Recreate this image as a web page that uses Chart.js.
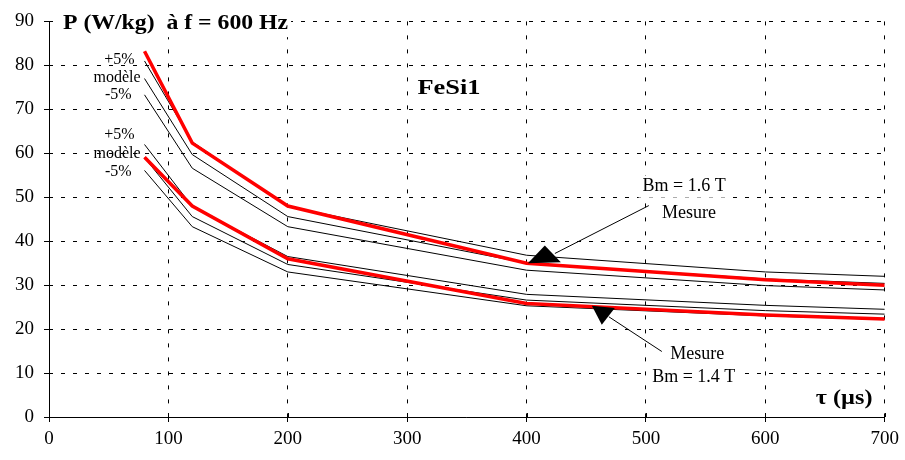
<!DOCTYPE html>
<html>
<head>
<meta charset="utf-8">
<script src="https://cdn.jsdelivr.net/npm/chart.js@4"></script>
<style>
  body { margin: 0; background: #fff; }
  #chartContainer { width: 905px; height: 460px; }
</style>
</head>
<body>
<div id="chartContainer"><canvas id="myChart" width="905" height="460"></canvas></div>
<script>
// tau values (µs) where the curves were read
const tauValues = [80, 120, 200, 400, 600, 700];

// Bm = 1.6 T
const mesure16 = [83.2, 62.3, 48.0, 35.0, 31.2, 30.0];
const modele16 = [77.0, 59.7, 45.6, 35.0, 31.4, 30.4];
const plus16 = [81.0, 62.6, 47.9, 36.8, 33.0, 32.0];
const minus16 = [73.3, 56.6, 43.3, 33.4, 29.9, 28.9];

// Bm = 1.4 T
const mesure14 = [59.1, 48.0, 36.0, 25.8, 23.2, 22.3];
const modele14 = [59.0, 45.6, 34.7, 26.6, 24.2, 23.4];
const plus14 = [62.0, 47.9, 36.5, 27.9, 25.4, 24.5];
const minus14 = [56.1, 43.3, 33.0, 25.3, 23.0, 22.2];

const xTicks = [0, 100, 200, 300, 400, 500, 600, 700];
const yTicks = [0, 10, 20, 30, 40, 50, 60, 70, 80, 90];

const serif = "'Liberation Serif', 'Times New Roman', serif";

function toPoints(values) {
  return values.map((v, i) => ({ x: tauValues[i], y: v }));
}

function blackLine(values) {
  return {
    data: toPoints(values),
    borderColor: "#000",
    borderWidth: 1,
    pointRadius: 0,
    tension: 0,
    order: 2,
  };
}

function redLine(values) {
  return {
    data: toPoints(values),
    borderColor: "#ff0000",
    borderWidth: 3.5,
    pointRadius: 0,
    tension: 0,
    order: 1,
  };
}

// annotation text, positions in data units (tau, P)
const annotations = [
  { text: "FeSi1", x: 335, y: 74.7, bold: true, size: 22, stretch: 1.2 },
  { text: "Bm = 1.6 T", x: 532, y: 52.4, size: 18, box: true },
  { text: "Mesure", x: 536, y: 46.3, size: 18 },
  { text: "Mesure", x: 543, y: 14.2, size: 18 },
  { text: "Bm = 1.4 T", x: 540, y: 9.0, size: 18, box: true },
  { text: "\u03c4 (\u00b5s)", x: 666, y: 4.3, bold: true, size: 21, stretch: 1.15 },
  { text: "+5%", x: 59, y: 81.2, size: 16 },
  { text: "mod\u00e8le", x: 57, y: 77.2, size: 16 },
  { text: "-5%", x: 58, y: 73.3, size: 16 },
  { text: "+5%", x: 59, y: 64.1, size: 16 },
  { text: "mod\u00e8le", x: 57, y: 59.8, size: 16 },
  { text: "-5%", x: 58, y: 55.7, size: 16 },
];

const arrowLines = [
  [[502.4, 48.1], [423.7, 37.2]],
  [[468.9, 22.8], [513.3, 14.9]],
];
const arrowHeads = [
  [[415.3, 39.0], [401.1, 35.0], [428.7, 35.2]],
  [[454.7, 25.3], [473.9, 24.8], [463.0, 21.0]],
];

function drawStretched(ctx, text, x, y, stretch) {
  ctx.save();
  ctx.translate(x, y);
  ctx.scale(stretch, 1);
  ctx.fillText(text, 0, 0);
  ctx.restore();
}

const annotationPlugin = {
  id: "annotationPlugin",
  afterDraw(chart) {
    const ctx = chart.ctx;
    const xs = chart.scales.x;
    const ys = chart.scales.y;
    const px = (v) => xs.getPixelForValue(v);
    const py = (v) => ys.getPixelForValue(v);
    ctx.save();

    // solid axes
    ctx.strokeStyle = "#000";
    ctx.lineWidth = 1;
    ctx.beginPath();
    ctx.moveTo(Math.round(px(0)) + 0.5, py(90));
    ctx.lineTo(Math.round(px(0)) + 0.5, py(0));
    ctx.moveTo(px(0), Math.round(py(0)) + 0.5);
    ctx.lineTo(px(700), Math.round(py(0)) + 0.5);
    // small inner tick marks crossing the axes
    yTicks.forEach((v) => {
      ctx.moveTo(px(0), Math.round(py(v)) + 0.5);
      ctx.lineTo(px(0) + 4, Math.round(py(v)) + 0.5);
    });
    xTicks.forEach((v) => {
      ctx.moveTo(Math.round(px(v)) + 0.5, py(0));
      ctx.lineTo(Math.round(px(v)) + 0.5, py(0) - 4);
    });
    ctx.stroke();

    // title with white background
    ctx.font = "bold 21px " + serif;
    ctx.textBaseline = "middle";
    ctx.textAlign = "left";
    const title = "P (W/kg)  \u00e0 f = 600 Hz";
    const stretch = 1.13;
    const tw = ctx.measureText(title).width * stretch;
    ctx.fillStyle = "#fff";
    ctx.fillRect(px(11.7) - 3, py(89.6) - 12, tw + 6, 26);
    ctx.fillStyle = "#000";
    drawStretched(ctx, title, px(11.7), py(89.6), stretch);

    ctx.textAlign = "center";
    annotations.forEach((a) => {
      ctx.font = (a.bold ? "bold " : "") + a.size + "px " + serif;
      if (a.box) {
        const w = ctx.measureText(a.text).width;
        ctx.fillStyle = "#fff";
        ctx.fillRect(px(a.x) - w / 2 - 4, py(a.y) - a.size / 2 - 2, w + 8, a.size + 4);
      }
      ctx.fillStyle = "#000";
      drawStretched(ctx, a.text, px(a.x), py(a.y), a.stretch || 1);
    });

    ctx.strokeStyle = "#000";
    ctx.lineWidth = 1;
    arrowLines.forEach((l) => {
      ctx.beginPath();
      ctx.moveTo(px(l[0][0]), py(l[0][1]));
      ctx.lineTo(px(l[1][0]), py(l[1][1]));
      ctx.stroke();
    });
    ctx.fillStyle = "#000";
    arrowHeads.forEach((t) => {
      ctx.beginPath();
      ctx.moveTo(px(t[0][0]), py(t[0][1]));
      ctx.lineTo(px(t[1][0]), py(t[1][1]));
      ctx.lineTo(px(t[2][0]), py(t[2][1]));
      ctx.closePath();
      ctx.fill();
    });
    ctx.restore();
  },
};

Chart.defaults.font.family = serif;
Chart.defaults.color = "#000";

new Chart(document.querySelector("#myChart"), {
  type: "line",
  data: {
    datasets: [
      blackLine(plus16),
      blackLine(modele16),
      blackLine(minus16),
      blackLine(plus14),
      blackLine(modele14),
      blackLine(minus14),
      redLine(mesure16),
      redLine(mesure14),
    ],
  },
  options: {
    responsive: false,
    animation: false,
    devicePixelRatio: 1,
    layout: { padding: { top: 18, right: 20, left: 0, bottom: 0 } },
    plugins: { legend: { display: false }, tooltip: { enabled: false } },
    scales: {
      x: {
        type: "linear",
        min: 0,
        max: 700,
        afterBuildTicks(scale) {
          scale.ticks = xTicks.map((v) => ({ value: v }));
        },
        afterFit(scale) {
          scale.height = 43;
        },
        ticks: { font: { size: 19 }, padding: 6, maxRotation: 0 },
        border: { display: false, dash: [4, 10] },
        grid: {
          color: "#000",
          lineWidth: 1,
          tickLength: 5,
          tickColor: "#000",
          tickBorderDash: [],
        },
      },
      y: {
        type: "linear",
        min: 0,
        max: 90,
        afterBuildTicks(scale) {
          scale.ticks = yTicks.map((v) => ({ value: v }));
        },
        afterFit(scale) {
          scale.width = 49;
        },
        ticks: { font: { size: 19 }, padding: 10 },
        border: { display: false, dash: [4, 8] },
        grid: {
          color: "#000",
          lineWidth: 1,
          tickLength: 5,
          tickColor: "#000",
          tickBorderDash: [],
        },
      },
    },
  },
  plugins: [annotationPlugin],
});
</script>
</body>
</html>
